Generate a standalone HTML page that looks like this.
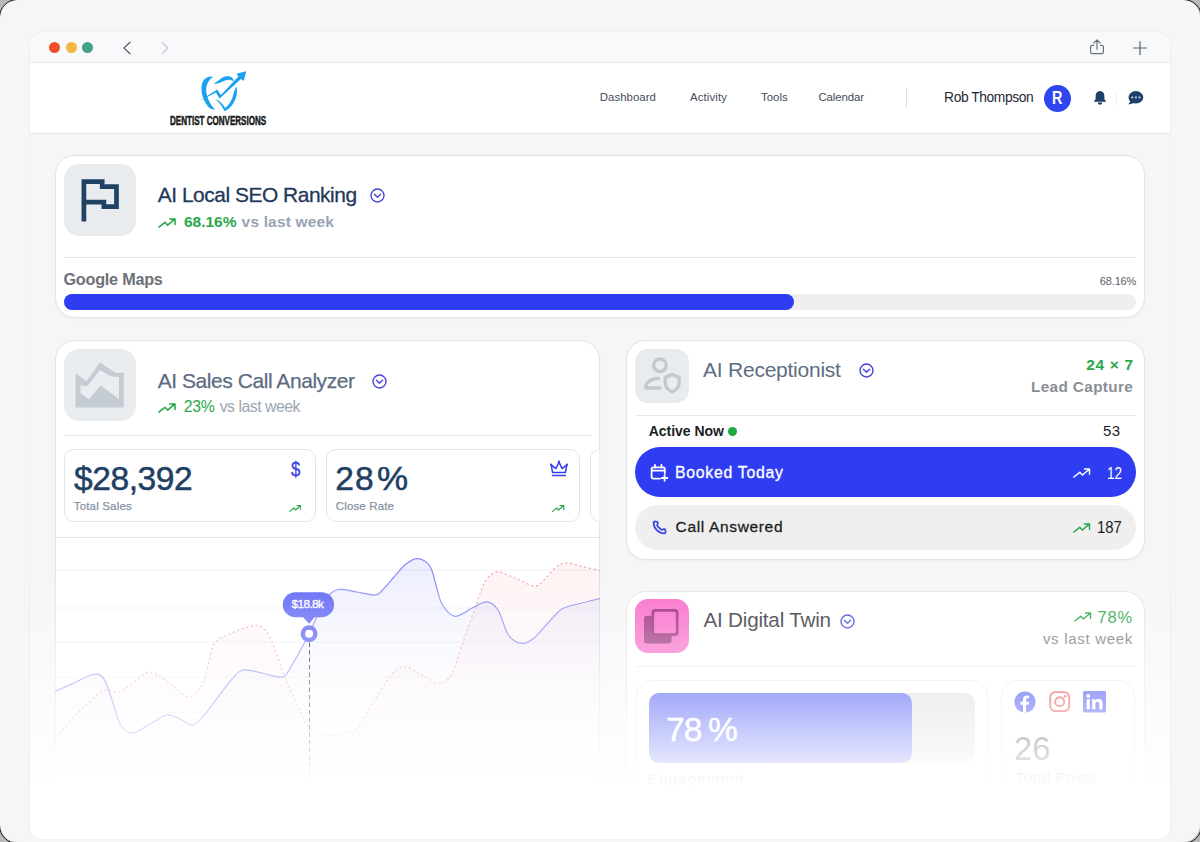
<!DOCTYPE html>
<html>
<head>
<meta charset="utf-8">
<title>Dentist Conversions Dashboard</title>
<style>
*{box-sizing:border-box;margin:0;padding:0}
html,body{width:1200px;height:842px;overflow:hidden;background:#b9b9b9;font-family:"Liberation Sans",sans-serif;}
.abs{position:absolute}
.t{position:absolute;white-space:nowrap;line-height:1;transform-origin:0 0}
#frame{position:absolute;left:0;top:0;width:1200px;height:842px;background:#f5f6f8;border-radius:17px;overflow:hidden}
#ring{position:absolute;left:-1.5px;top:-1.5px;width:1203px;height:845px;border-radius:18.5px;border:1.5px solid #1a1a1a;pointer-events:none}
#win{position:absolute;left:30px;top:32px;width:1140px;height:807px;background:#f6f6f8;border-radius:14px 14px 12px 12px;overflow:hidden;box-shadow:0 0 0 1px #eef0f3}
#tbar{position:absolute;left:0;top:0;width:1140px;height:31px;background:#f8f9fb;border-bottom:1px solid #e6e8ec}
#nav{position:absolute;left:0;top:31px;width:1140px;height:71px;background:#fff;border-bottom:1px solid #e3e5e9}
.dot{position:absolute;top:10px;width:11px;height:11px;border-radius:50%}
.card{position:absolute;background:#fff;border:1px solid #e2e4e8;border-radius:20px;box-shadow:0 1px 3px rgba(20,30,60,.04)}
.tile{position:absolute;width:72px;height:72px;border-radius:15px;background:#e9ecef}
.hr{position:absolute;height:1px;background:#e5e7ea}
.box{position:absolute;border:1px solid #e3e5e9;border-radius:10px;background:#fff}
#fade{position:absolute;left:0;top:538px;width:1140px;height:269px;background:linear-gradient(to bottom,rgba(255,255,255,0) 0,rgba(255,255,255,1) 220px,#fff 100%);pointer-events:none}
</style>
</head>
<body>
<div id="frame">
<div id="win">
  <div id="tbar">
    <div class="dot" style="left:19px;background:#f04f26"></div>
    <div class="dot" style="left:35.5px;background:#f5b642"></div>
    <div class="dot" style="left:52px;background:#44a187"></div>
    <svg class="abs" style="left:90px;top:8px" width="14" height="16" viewBox="0 0 14 16"><path d="M10 2.2 L4 8 L10 13.8" fill="none" stroke="#5a5f66" stroke-width="1.25" stroke-linecap="round" stroke-linejoin="round"/></svg>
    <svg class="abs" style="left:128px;top:8px" width="14" height="16" viewBox="0 0 14 16"><path d="M4 2.2 L10 8 L4 13.8" fill="none" stroke="#c9ccd2" stroke-width="1.3" stroke-linecap="round" stroke-linejoin="round"/></svg>
    <svg class="abs" style="left:1058px;top:6px" width="18" height="18" viewBox="0 0 18 18"><path d="M5.6 7.4 H4.3 Q2.6 7.4 2.6 9.1 V14 Q2.6 15.7 4.3 15.7 H13.7 Q15.4 15.7 15.4 14 V9.1 Q15.4 7.4 13.7 7.4 H12.4 M9 11.2 V2 M5.9 5 L9 1.9 L12.1 5" fill="none" stroke="#6b7078" stroke-width="1.2" stroke-linecap="round" stroke-linejoin="round"/></svg>
    <svg class="abs" style="left:1102px;top:8px" width="16" height="16" viewBox="0 0 16 16"><path d="M8 1.5 V14.5 M1.5 8 H14.5" fill="none" stroke="#5b6068" stroke-width="1.2" stroke-linecap="round"/></svg>
  </div>
  <div id="nav">
    <!-- logo: tooth + arrow -->
    <svg class="abs" style="left:168.7px;top:8.2px" width="48" height="40" viewBox="0 0 48 40">
      <g fill="#1aa2f1">
        <path d="M13.8 5.9 C9 4.5 3.5 8 2.6 15 C1.8 22 4.5 30 9 35.5 C11 37.8 13.5 38.8 16.2 38.8 C12.5 35 9 29.5 7.6 23 C6.2 16 8.5 9.5 13.8 5.9 Z"/>
        <path d="M14.4 12.5 C17.5 11.8 20 8.5 23.5 6.6 C27 4.7 31.5 4.6 33.6 7.2 C34.4 8.2 34.6 9.5 34.4 10.6 C32.5 8.2 29 8.2 26 9.6 C22.5 11.3 19 13.5 14.4 12.5 Z"/>
        <path d="M37.5 15.6 C38.8 21 37.5 27 34.5 32 C32 36 28.5 39 25.6 40.2 C23.8 37 21.5 32 16.2 28.5 C20 28.8 23.5 32.5 26.2 36.9 C29.5 34.5 32.5 30 33.8 25.5 C34.8 22 35.3 19 37.5 15.6 Z"/>
        <path d="M0.6 30 L18.1 18.4 L21.9 24.1 L39.4 5.4 L37.5 2.75 L47.25 0.25 L44.75 10 L41.9 7.9 L20.6 27.6 L16.9 21.5 Z"/>
      </g>
    </svg>
    <div class="abs" style="left:876px;top:25px;width:1px;height:20px;background:#dcdfe4"></div>
    <div class="abs" style="left:1014px;top:21.5px;width:27px;height:27px;border-radius:50%;background:#2f45f0"></div>
    <!-- bell -->
    <svg class="abs" style="left:1064px;top:27.8px" width="12" height="14" viewBox="0 0 12 14"><path d="M6 0 C3.2 0 1.6 2.2 1.6 5 V8.3 L0 10 V10.7 H12 V10 L10.4 8.3 V5 C10.4 2.2 8.8 0 6 0 Z M3.7 11.4 A2.3 2.3 0 0 0 8.3 11.4 Z" fill="#1f4068"/></svg>
    <div class="abs" style="left:1086px;top:28px;width:1px;height:15px;background:#eef0f3"></div>
    <!-- chat -->
    <svg class="abs" style="left:1098.4px;top:28.3px" width="15.4" height="14" viewBox="0 0 15.4 14"><ellipse cx="7.9" cy="6.3" rx="7.4" ry="6.2" fill="#1f4068"/><path d="M2.6 9.6 L0.4 13.4 L6.4 12 Z" fill="#1f4068"/><g fill="#d5e4f7"><rect x="3.3" y="5.4" width="1.9" height="1.9" rx=".5"/><rect x="6.95" y="5.4" width="1.9" height="1.9" rx=".5"/><rect x="10.6" y="5.4" width="1.9" height="1.9" rx=".5"/></g></svg>
  </div>
  <div class="t" style="left:140.00px;top:81.99px;font-size:13px;transform:scaleX(0.6189);font-weight:bold;color:#1b1b1b;-webkit-text-stroke:.55px #1b1b1b">DENTIST CONVERSIONS</div>
  <div class="t" style="left:569.70px;top:60.25px;font-size:11.4px;letter-spacing:0.065px;color:#3f4b5b">Dashboard</div>
  <div class="t" style="left:660.00px;top:60.25px;font-size:11.4px;letter-spacing:0.114px;color:#3f4b5b">Activity</div>
  <div class="t" style="left:730.95px;top:60.25px;font-size:11.4px;letter-spacing:0.034px;color:#3f4b5b">Tools</div>
  <div class="t" style="left:788.45px;top:60.25px;font-size:11.4px;letter-spacing:-0.081px;color:#3f4b5b">Calendar</div>
  <div class="t" style="left:914.12px;top:59.22px;font-size:13.8px;letter-spacing:-0.418px;color:#1f2733">Rob Thompson</div>
  <div class="t" style="left:1022.20px;top:57.16px;font-size:18px;transform:scaleX(0.7978);font-weight:bold;color:#fff">R</div>

  <!-- SEO card -->
  <div class="card" style="left:25px;top:123px;width:1090px;height:163px"></div>
  <div class="tile" style="left:34px;top:132px">
    <svg class="abs" style="left:0;top:0" width="72" height="72" viewBox="0 0 72 72"><path d="M19.9 57.5 V17.7 H38.2 V22.6 H52.5 V42.7 H39.9 V38.1 H19.9" fill="none" stroke="#1f4264" stroke-width="4.7" stroke-linejoin="miter"/></svg>
  </div>
  <div class="t" style="left:127.70px;top:152.81px;font-size:20.9px;letter-spacing:-0.446px;color:#22385a;-webkit-text-stroke:.3px #22385a">AI Local SEO Ranking</div>
  <svg class="abs" style="left:339.6px;top:156.4px" width="15" height="15" viewBox="0 0 15 15"><circle cx="7.5" cy="7.5" r="6.5" fill="none" stroke="#4744d6" stroke-width="1.4"/><path d="M4.4 6.3 L7.5 9.2 L10.6 6.3" fill="none" stroke="#4744d6" stroke-width="1.4" stroke-linecap="round" stroke-linejoin="round"/></svg>
  <svg class="abs" style="left:127.5px;top:185.5px" width="18" height="10" viewBox="0 0 18 10"><path d="M0.9 9.1 L6.9 4.3 L9.7 7.1 L16.9 0.9 M11.8 0.9 H17 V6.4" fill="none" stroke="#27a447" stroke-width="1.5" stroke-linecap="round" stroke-linejoin="round"/></svg>
  <div class="t" style="left:153.92px;top:182.38px;font-size:15.5px;letter-spacing:0.007px;font-weight:bold;color:#2aa84a">68.16%</div>
  <div class="t" style="left:211.60px;top:182.38px;font-size:15.5px;letter-spacing:0.166px;font-weight:bold;color:#97a3b3">vs last week</div>
  <div class="hr" style="left:34px;top:225px;width:1072px"></div>
  <div class="t" style="left:33.49px;top:239.29px;font-size:16.2px;letter-spacing:-0.225px;font-weight:bold;color:#6d7178">Google Maps</div>
  <div class="t" style="left:1069.75px;top:244.49px;font-size:11px;letter-spacing:-0.135px;color:#5a5e66">68.16%</div>
  <div class="abs" style="left:34px;top:262px;width:1072px;height:15.5px;border-radius:8px;background:#efefef"></div>
  <div class="abs" style="left:34px;top:262px;width:729.5px;height:15.5px;border-radius:8px;background:#2e3df2"></div>

  <!-- Sales card -->
  <div class="card" style="left:25px;top:307.6px;width:544.6px;height:520px"></div>
  <div class="tile" style="left:34px;top:317px;background:#eaedf0">
    <svg class="abs" style="left:0;top:0" width="72" height="72" viewBox="0 0 72 72"><path fill-rule="evenodd" fill="#c4cbd2" d="M11.5 24.5 V58.5 H59.8 V23.8 H51.5 L36 13.5 L22.5 32 Z M16.5 36 L23 37.5 L36 21 L46.5 27.2 L55 28 V50 L36.5 36.5 L25 50.5 L16.5 44 Z"/></svg>
  </div>
  <div class="t" style="left:127.70px;top:337.52px;font-size:21px;letter-spacing:-0.445px;color:#5d6d83;-webkit-text-stroke:.25px #5d6d83">AI Sales Call Analyzer</div>
  <svg class="abs" style="left:341.8px;top:341.6px" width="15" height="15" viewBox="0 0 15 15"><circle cx="7.5" cy="7.5" r="6.5" fill="none" stroke="#4744d6" stroke-width="1.4"/><path d="M4.4 6.3 L7.5 9.2 L10.6 6.3" fill="none" stroke="#4744d6" stroke-width="1.4" stroke-linecap="round" stroke-linejoin="round"/></svg>
  <svg class="abs" style="left:127.5px;top:370.5px" width="18" height="10" viewBox="0 0 18 10"><path d="M0.9 9.1 L6.9 4.3 L9.7 7.1 L16.9 0.9 M11.8 0.9 H17 V6.4" fill="none" stroke="#27a447" stroke-width="1.5" stroke-linecap="round" stroke-linejoin="round"/></svg>
  <div class="t" style="left:153.66px;top:367.12px;font-size:15.8px;letter-spacing:-0.206px;color:#2aa84a">23%</div>
  <div class="t" style="left:189.70px;top:367.12px;font-size:15.8px;letter-spacing:-0.482px;color:#9ba6b3">vs last week</div>
  <div class="hr" style="left:34px;top:403px;width:527px"></div>
  <div class="box" style="left:33.6px;top:417.2px;width:252.4px;height:73.3px"></div>
  <div class="box" style="left:296px;top:417.2px;width:253.6px;height:73.3px"></div>
  <div class="box" style="left:560px;top:417.2px;width:40px;height:73.3px;clip-path:inset(0 30.5px 0 0)"></div>
  <div class="t" style="left:44.00px;top:430.15px;font-size:33.6px;letter-spacing:-0.466px;color:#1f4064;-webkit-text-stroke:.5px #1f4064">$28,392</div>
  <div class="t" style="left:43.75px;top:468.66px;font-size:11.5px;letter-spacing:0.170px;color:#8793a5;-webkit-text-stroke:.25px #8793a5">Total Sales</div>
  <div class="t" style="left:305.32px;top:430.35px;font-size:33.6px;letter-spacing:0.963px;color:#1f4064;-webkit-text-stroke:.5px #1f4064">28</div>
  <div class="t" style="left:347.41px;top:430.35px;font-size:33.6px;transform:scaleX(1.0422);color:#1f4064;-webkit-text-stroke:.5px #1f4064">%</div>
  <div class="t" style="left:305.75px;top:468.66px;font-size:11.5px;letter-spacing:0.151px;color:#8793a5;-webkit-text-stroke:.25px #8793a5">Close Rate</div>
  <div class="t" style="left:260.80px;top:427.24px;font-size:20.5px;transform:scaleX(0.8206);color:#3b40e4;-webkit-text-stroke:.35px #3b40e4">$</div>
  <svg class="abs" style="left:258.5px;top:473px" width="12.5" height="7" viewBox="0 0 18 10"><path d="M0.9 9.1 L6.9 4.3 L9.7 7.1 L16.9 0.9 M11.8 0.9 H17 V6.4" fill="none" stroke="#27a447" stroke-width="1.7" stroke-linecap="round" stroke-linejoin="round"/></svg>
  <svg class="abs" style="left:522px;top:473px" width="12.5" height="7" viewBox="0 0 18 10"><path d="M0.9 9.1 L6.9 4.3 L9.7 7.1 L16.9 0.9 M11.8 0.9 H17 V6.4" fill="none" stroke="#27a447" stroke-width="1.7" stroke-linecap="round" stroke-linejoin="round"/></svg>
  <!-- crown -->
  <svg class="abs" style="left:519px;top:428px" width="20" height="18" viewBox="0 0 20 18"><path d="M3.6 12.6 L2.2 4.9 L6.9 8.6 L10 2.2 L13.1 8.6 L17.8 4.9 L16.4 12.6 Z M3.6 15.6 H16.4" fill="none" stroke="#3a3ff0" stroke-width="1.5" stroke-linejoin="round" stroke-linecap="round"/><circle cx="2" cy="4.6" r="1.1" fill="#3a3ff0"/><circle cx="10" cy="1.6" r="1.1" fill="#3a3ff0"/><circle cx="18" cy="4.6" r="1.1" fill="#3a3ff0"/></svg>

  <!-- chart -->
  <svg class="abs" style="left:25px;top:505px" width="545" height="300" viewBox="0 0 545 300">
    <defs>
      <linearGradient id="gpu" gradientUnits="userSpaceOnUse" x1="0" y1="20" x2="0" y2="245"><stop offset="0" stop-color="#5f65f5" stop-opacity=".115"/><stop offset=".55" stop-color="#5f65f5" stop-opacity=".035"/><stop offset="1" stop-color="#5f65f5" stop-opacity="0"/></linearGradient>
      <linearGradient id="gpk" gradientUnits="userSpaceOnUse" x1="0" y1="20" x2="0" y2="245"><stop offset="0" stop-color="#f47f86" stop-opacity=".095"/><stop offset=".6" stop-color="#f47f86" stop-opacity=".05"/><stop offset="1" stop-color="#f47f86" stop-opacity="0"/></linearGradient>
    </defs>
    <rect x="0" y="0" width="545" height="1" fill="#e4e6ea"/>
    <g fill="#f1f2f5"><rect x="1" y="32.5" width="543" height="1"/><rect x="1" y="70.5" width="543" height="1"/><rect x="1" y="104.5" width="543" height="1"/><rect x="1" y="139.5" width="543" height="1"/><rect x="1" y="175" width="543" height="1"/></g>
    <path d="M0.0 205.0 C0.5 204.0 0.0 203.0 3.0 199.0 C6.0 195.0 13.2 186.3 18.0 181.0 C22.8 175.7 27.3 171.4 32.0 167.0 C36.7 162.6 42.2 156.8 46.0 154.5 C49.8 152.2 52.0 153.4 55.0 153.5 C58.0 153.6 60.0 156.4 64.0 155.0 C68.0 153.6 73.8 148.3 79.0 145.0 C84.2 141.7 89.3 135.0 95.0 135.0 C100.7 135.0 106.8 140.9 113.0 145.0 C119.2 149.1 127.3 157.8 132.0 159.5 C136.7 161.2 138.3 157.3 141.0 155.0 C143.7 152.7 145.8 150.5 148.0 145.5 C150.2 140.5 152.0 131.7 154.0 125.0 C156.0 118.3 156.0 110.4 160.0 105.5 C164.0 100.6 172.7 98.0 178.0 95.5 C183.3 93.0 187.8 91.7 192.0 90.5 C196.2 89.3 199.5 87.5 203.0 88.5 C206.5 89.5 209.8 91.6 213.0 96.5 C216.2 101.4 219.0 110.3 222.0 118.0 C225.0 125.7 227.5 134.0 231.0 142.5 C234.5 151.0 239.2 160.9 243.0 169.0 C246.8 177.1 250.3 186.3 254.0 191.0 C257.7 195.7 261.2 195.8 265.0 197.0 C268.8 198.2 272.8 198.7 277.0 198.5 C281.2 198.3 285.8 197.1 290.0 196.0 C294.2 194.9 297.3 197.0 302.0 192.0 C306.7 187.0 312.5 174.8 318.0 166.0 C323.5 157.2 330.8 145.1 335.0 139.5 C339.2 133.9 340.3 134.1 343.0 132.5 C345.7 130.9 347.0 129.1 351.0 130.0 C355.0 130.9 361.5 135.3 367.0 138.0 C372.5 140.7 379.2 146.2 384.0 146.2 C388.8 146.2 392.2 144.4 396.0 138.0 C399.8 131.6 403.2 118.7 407.0 108.0 C410.8 97.3 416.0 82.5 419.0 74.0 C422.0 65.5 423.0 62.2 425.0 57.0 C427.0 51.8 428.8 46.4 431.0 43.0 C433.2 39.6 435.7 37.8 438.0 36.5 C440.3 35.2 441.0 34.1 445.0 35.0 C449.0 35.9 456.2 39.7 462.0 42.0 C467.8 44.3 475.3 49.0 480.0 49.0 C484.7 49.0 486.7 45.0 490.0 42.0 C493.3 39.0 496.5 33.7 500.0 31.0 C503.5 28.3 506.5 26.2 511.0 26.0 C515.5 25.8 521.3 28.2 527.0 29.5 C532.7 30.8 542.0 32.8 545.0 33.5 L545 240 L0 240 Z" fill="url(#gpk)"/>
    <path d="M0.0 154.5 C3.3 153.0 13.7 148.3 20.0 145.5 C26.3 142.7 33.3 138.3 38.0 137.5 C42.7 136.7 45.0 136.8 48.0 140.5 C51.0 144.2 53.0 151.9 56.0 160.0 C59.0 168.1 62.3 183.0 66.0 189.0 C69.7 195.0 73.2 196.3 78.0 196.0 C82.8 195.7 89.3 190.0 95.0 187.0 C100.7 184.0 107.0 178.8 112.0 178.0 C117.0 177.2 120.7 180.3 125.0 182.0 C129.3 183.7 133.8 188.8 138.0 188.0 C142.2 187.2 145.8 181.7 150.0 177.0 C154.2 172.3 158.5 165.8 163.0 160.0 C167.5 154.2 172.8 146.5 177.0 142.0 C181.2 137.5 183.0 134.0 188.0 133.0 C193.0 132.0 200.5 134.8 207.0 136.0 C213.5 137.2 222.0 141.3 227.0 140.0 C232.0 138.7 232.5 135.2 237.0 128.0 C241.5 120.8 249.3 106.2 254.0 97.0 C258.7 87.8 261.7 79.5 265.0 73.0 C268.3 66.5 270.8 61.4 274.0 58.0 C277.2 54.6 279.3 53.0 284.0 52.5 C288.7 52.0 296.0 54.1 302.0 55.0 C308.0 55.9 315.8 58.2 320.0 58.0 C324.2 57.8 323.8 56.5 327.0 53.5 C330.2 50.5 335.0 44.4 339.0 40.0 C343.0 35.6 347.0 30.0 351.0 27.0 C355.0 24.0 359.0 21.3 363.0 21.7 C367.0 22.1 372.0 25.1 375.0 29.5 C378.0 33.9 379.0 41.8 381.0 48.0 C383.0 54.2 383.8 61.8 387.0 67.0 C390.2 72.2 394.7 78.8 400.0 79.3 C405.3 79.8 413.7 72.4 419.0 70.0 C424.3 67.6 428.0 64.3 432.0 64.8 C436.0 65.3 439.4 67.5 443.0 73.0 C446.6 78.5 449.5 92.4 453.5 98.0 C457.5 103.6 462.8 105.9 467.0 106.4 C471.2 106.9 474.7 104.4 479.0 101.0 C483.3 97.6 488.3 90.8 493.0 86.0 C497.7 81.2 501.7 75.2 507.0 72.0 C512.3 68.8 518.7 68.2 525.0 66.5 C531.3 64.8 541.7 62.3 545.0 61.5 L545 240 L0 240 Z" fill="url(#gpu)"/>
    <path d="M0.0 205.0 C0.5 204.0 0.0 203.0 3.0 199.0 C6.0 195.0 13.2 186.3 18.0 181.0 C22.8 175.7 27.3 171.4 32.0 167.0 C36.7 162.6 42.2 156.8 46.0 154.5 C49.8 152.2 52.0 153.4 55.0 153.5 C58.0 153.6 60.0 156.4 64.0 155.0 C68.0 153.6 73.8 148.3 79.0 145.0 C84.2 141.7 89.3 135.0 95.0 135.0 C100.7 135.0 106.8 140.9 113.0 145.0 C119.2 149.1 127.3 157.8 132.0 159.5 C136.7 161.2 138.3 157.3 141.0 155.0 C143.7 152.7 145.8 150.5 148.0 145.5 C150.2 140.5 152.0 131.7 154.0 125.0 C156.0 118.3 156.0 110.4 160.0 105.5 C164.0 100.6 172.7 98.0 178.0 95.5 C183.3 93.0 187.8 91.7 192.0 90.5 C196.2 89.3 199.5 87.5 203.0 88.5 C206.5 89.5 209.8 91.6 213.0 96.5 C216.2 101.4 219.0 110.3 222.0 118.0 C225.0 125.7 227.5 134.0 231.0 142.5 C234.5 151.0 239.2 160.9 243.0 169.0 C246.8 177.1 250.3 186.3 254.0 191.0 C257.7 195.7 261.2 195.8 265.0 197.0 C268.8 198.2 272.8 198.7 277.0 198.5 C281.2 198.3 285.8 197.1 290.0 196.0 C294.2 194.9 297.3 197.0 302.0 192.0 C306.7 187.0 312.5 174.8 318.0 166.0 C323.5 157.2 330.8 145.1 335.0 139.5 C339.2 133.9 340.3 134.1 343.0 132.5 C345.7 130.9 347.0 129.1 351.0 130.0 C355.0 130.9 361.5 135.3 367.0 138.0 C372.5 140.7 379.2 146.2 384.0 146.2 C388.8 146.2 392.2 144.4 396.0 138.0 C399.8 131.6 403.2 118.7 407.0 108.0 C410.8 97.3 416.0 82.5 419.0 74.0 C422.0 65.5 423.0 62.2 425.0 57.0 C427.0 51.8 428.8 46.4 431.0 43.0 C433.2 39.6 435.7 37.8 438.0 36.5 C440.3 35.2 441.0 34.1 445.0 35.0 C449.0 35.9 456.2 39.7 462.0 42.0 C467.8 44.3 475.3 49.0 480.0 49.0 C484.7 49.0 486.7 45.0 490.0 42.0 C493.3 39.0 496.5 33.7 500.0 31.0 C503.5 28.3 506.5 26.2 511.0 26.0 C515.5 25.8 521.3 28.2 527.0 29.5 C532.7 30.8 542.0 32.8 545.0 33.5" fill="none" stroke="#f6a2ae" stroke-width="1.15" stroke-dasharray="2.2 2.6"/>
    <path d="M0.0 154.5 C3.3 153.0 13.7 148.3 20.0 145.5 C26.3 142.7 33.3 138.3 38.0 137.5 C42.7 136.7 45.0 136.8 48.0 140.5 C51.0 144.2 53.0 151.9 56.0 160.0 C59.0 168.1 62.3 183.0 66.0 189.0 C69.7 195.0 73.2 196.3 78.0 196.0 C82.8 195.7 89.3 190.0 95.0 187.0 C100.7 184.0 107.0 178.8 112.0 178.0 C117.0 177.2 120.7 180.3 125.0 182.0 C129.3 183.7 133.8 188.8 138.0 188.0 C142.2 187.2 145.8 181.7 150.0 177.0 C154.2 172.3 158.5 165.8 163.0 160.0 C167.5 154.2 172.8 146.5 177.0 142.0 C181.2 137.5 183.0 134.0 188.0 133.0 C193.0 132.0 200.5 134.8 207.0 136.0 C213.5 137.2 222.0 141.3 227.0 140.0 C232.0 138.7 232.5 135.2 237.0 128.0 C241.5 120.8 249.3 106.2 254.0 97.0 C258.7 87.8 261.7 79.5 265.0 73.0 C268.3 66.5 270.8 61.4 274.0 58.0 C277.2 54.6 279.3 53.0 284.0 52.5 C288.7 52.0 296.0 54.1 302.0 55.0 C308.0 55.9 315.8 58.2 320.0 58.0 C324.2 57.8 323.8 56.5 327.0 53.5 C330.2 50.5 335.0 44.4 339.0 40.0 C343.0 35.6 347.0 30.0 351.0 27.0 C355.0 24.0 359.0 21.3 363.0 21.7 C367.0 22.1 372.0 25.1 375.0 29.5 C378.0 33.9 379.0 41.8 381.0 48.0 C383.0 54.2 383.8 61.8 387.0 67.0 C390.2 72.2 394.7 78.8 400.0 79.3 C405.3 79.8 413.7 72.4 419.0 70.0 C424.3 67.6 428.0 64.3 432.0 64.8 C436.0 65.3 439.4 67.5 443.0 73.0 C446.6 78.5 449.5 92.4 453.5 98.0 C457.5 103.6 462.8 105.9 467.0 106.4 C471.2 106.9 474.7 104.4 479.0 101.0 C483.3 97.6 488.3 90.8 493.0 86.0 C497.7 81.2 501.7 75.2 507.0 72.0 C512.3 68.8 518.7 68.2 525.0 66.5 C531.3 64.8 541.7 62.3 545.0 61.5" fill="none" stroke="#8a8ef6" stroke-width="1.25"/>
    <path d="M254.5 105.5 V246" stroke="#26282e" stroke-width="1" stroke-dasharray="4.5 3" fill="none"/>
    <circle cx="254.1" cy="96.8" r="8.45" fill="#5f65f5"/><circle cx="254.1" cy="96.8" r="4.05" fill="#fff"/>
    <rect x="227.8" y="55.2" width="51.3" height="25" rx="12.5" fill="#6268f5"/>
    <path d="M247.8 79.8 L254.1 86.8 L260 79.8 Z" fill="#6268f5"/>
  </svg>
  <div class="t" style="left:261.60px;top:567.01px;font-size:11.8px;letter-spacing:-0.616px;color:#fff;-webkit-text-stroke:.35px #fff">$18.8k</div>

  <!-- Receptionist card -->
  <div class="card" style="left:596.3px;top:307.6px;width:518.7px;height:220.4px"></div>
  <div class="abs" style="left:605px;top:317px;width:54px;height:54px;border-radius:13px;background:#e9ecef">
    <svg class="abs" style="left:0;top:0" width="54" height="54" viewBox="0 0 54 54"><g fill="none" stroke="#c3c8ce" stroke-width="3.3" stroke-linejoin="round"><circle cx="24.9" cy="16.3" r="6.3"/><path d="M25 29.4 C17 29.4 11.2 32.5 10.6 39 H26.5" stroke-linecap="butt"/><path d="M37.2 25.6 L44.2 28.4 V33.5 C44.2 38 41 41.2 37.2 42.9 C33.4 41.2 30.2 38 30.2 33.5 V28.4 Z"/></g></svg>
  </div>
  <div class="t" style="left:673.10px;top:327.12px;font-size:21px;letter-spacing:-0.244px;color:#5d6d83">AI Receptionist</div>
  <svg class="abs" style="left:828.5px;top:330.5px" width="15" height="15" viewBox="0 0 15 15"><circle cx="7.5" cy="7.5" r="6.5" fill="none" stroke="#4744d6" stroke-width="1.4"/><path d="M4.4 6.3 L7.5 9.2 L10.6 6.3" fill="none" stroke="#4744d6" stroke-width="1.4" stroke-linecap="round" stroke-linejoin="round"/></svg>
  <div class="t" style="left:1056.22px;top:325.48px;font-size:15.5px;letter-spacing:0.677px;font-weight:bold;color:#2aa84a">24 × 7</div>
  <div class="t" style="left:1001.04px;top:346.55px;font-size:15.3px;letter-spacing:0.370px;font-weight:bold;color:#8a8f96">Lead Capture</div>
  <div class="hr" style="left:606px;top:383px;width:500px"></div>
  <div class="t" style="left:618.78px;top:391.75px;font-size:14px;letter-spacing:-0.032px;font-weight:bold;color:#1c1f24">Active Now</div>
  <div class="abs" style="left:697.6px;top:395px;width:9px;height:9px;border-radius:50%;background:#1faa3c"></div>
  <div class="t" style="left:1073.03px;top:391.40px;font-size:15px;letter-spacing:0.292px;color:#1c1f24">53</div>
  <div class="abs" style="left:605px;top:415.4px;width:501px;height:50.1px;border-radius:25px;background:#2e3df2"></div>
  <!-- calendar plus -->
  <svg class="abs" style="left:620px;top:431.5px" width="19" height="18" viewBox="0 0 19 18"><g fill="none" stroke="#fff" stroke-width="1.8" stroke-linecap="round" stroke-linejoin="round"><path d="M10 14.6 H3.4 Q1.6 14.6 1.6 12.8 V5.2 Q1.6 3.4 3.4 3.4 H13 Q14.8 3.4 14.8 5.2 V9.4"/><path d="M1.8 6.6 H14.6 M5 0.9 V3.6 M11.4 0.9 V3.6 M14.6 11.2 V16.8 M11.8 14 H17.4"/></g></svg>
  <div class="t" style="left:645.07px;top:432.72px;font-size:15.8px;letter-spacing:0.718px;color:#fff;-webkit-text-stroke:.3px #fff">Booked Today</div>
  <svg class="abs" style="left:1043px;top:436px" width="17.5" height="10" viewBox="0 0 18 10"><path d="M0.9 9.1 L6.9 4.3 L9.7 7.1 L16.9 0.9 M11.8 0.9 H17 V6.4" fill="none" stroke="#fff" stroke-width="1.5" stroke-linecap="round" stroke-linejoin="round"/></svg>
  <div class="t" style="left:1077.26px;top:432.79px;font-size:16.2px;transform:scaleX(0.8318);color:#fff">12</div>
  <div class="abs" style="left:605px;top:473px;width:501px;height:44.5px;border-radius:23px;background:#efefef"></div>
  <!-- phone -->
  <svg class="abs" style="left:620.6px;top:486.6px" width="17" height="17" viewBox="0 0 24 24"><path d="M6.6 3.6 C5.3 3.3 3.6 3.6 3.6 5.4 C3.9 13.6 10.4 20.1 18.6 20.4 C20.4 20.4 20.9 19 20.6 17.6 L20 15.3 C19.8 14.5 19 14.1 18.2 14.3 L15.6 15.2 C15 15.4 14.4 15.2 14 14.8 L9.2 10 C8.8 9.6 8.6 9 8.8 8.4 L9.7 5.8 C9.9 5 9.5 4.2 8.7 4 Z" fill="none" stroke="#3a46e8" stroke-width="2.5" stroke-linejoin="round"/></svg>
  <div class="t" style="left:645.57px;top:487.38px;font-size:15.5px;letter-spacing:0.655px;color:#1c1f24;-webkit-text-stroke:.3px #1c1f24">Call Answered</div>
  <svg class="abs" style="left:1043px;top:491px" width="17.5" height="10" viewBox="0 0 18 10"><path d="M0.9 9.1 L6.9 4.3 L9.7 7.1 L16.9 0.9 M11.8 0.9 H17 V6.4" fill="none" stroke="#27a447" stroke-width="1.5" stroke-linecap="round" stroke-linejoin="round"/></svg>
  <div class="t" style="left:1067.17px;top:487.62px;font-size:15.8px;transform:scaleX(0.9420);color:#1c1f24">187</div>

  <!-- Digital twin card -->
  <div class="card" style="left:596.3px;top:558.7px;width:518.7px;height:270px"></div>
  <div class="abs" style="left:605px;top:567px;width:54px;height:54px;border-radius:13px;background:#f96bc9">
    <svg class="abs" style="left:0;top:0" width="54" height="54" viewBox="0 0 54 54"><rect x="9" y="16.8" width="27.5" height="27.8" rx="3" fill="#9a2f7a"/><rect x="17.8" y="11.3" width="24.4" height="24.4" rx="2.5" fill="#f96bc9" stroke="#98267a" stroke-width="2.7"/></svg>
  </div>
  <div class="t" style="left:673.50px;top:577.68px;font-size:20.7px;letter-spacing:-0.227px;color:#2b2d33">AI Digital Twin</div>
  <svg class="abs" style="left:809.8px;top:581.6px" width="15" height="15" viewBox="0 0 15 15"><circle cx="7.5" cy="7.5" r="6.5" fill="none" stroke="#3f43dc" stroke-width="1.4"/><path d="M4.4 6.3 L7.5 9.2 L10.6 6.3" fill="none" stroke="#3f43dc" stroke-width="1.4" stroke-linecap="round" stroke-linejoin="round"/></svg>
  <svg class="abs" style="left:1044px;top:580.2px" width="17.5" height="10" viewBox="0 0 18 10"><path d="M0.9 9.1 L6.9 4.3 L9.7 7.1 L16.9 0.9 M11.8 0.9 H17 V6.4" fill="none" stroke="#1ea33e" stroke-width="1.5" stroke-linecap="round" stroke-linejoin="round"/></svg>
  <div class="t" style="left:1067.53px;top:576.53px;font-size:16.5px;letter-spacing:0.870px;color:#1ea33e">78%</div>
  <div class="t" style="left:1012.90px;top:598.60px;font-size:15px;letter-spacing:0.706px;color:#6e7177">vs last week</div>
  <div class="hr" style="left:606px;top:634px;width:500px"></div>
  <div class="box" style="left:606px;top:648px;width:351.5px;height:150px;border-radius:16px;border-color:#e3e5e9"></div>
  <div class="box" style="left:971px;top:648px;width:134px;height:150px;border-radius:16px;border-color:#e3e5e9"></div>
  <div class="abs" style="left:618.5px;top:660.5px;width:326.5px;height:70.5px;border-radius:10px;background:#d9d9db"></div>
  <div class="abs" style="left:618.5px;top:660.5px;width:263.5px;height:70.5px;border-radius:10px;background:#2e3df2"></div>
  <div class="t" style="left:636.12px;top:681.15px;font-size:33.6px;letter-spacing:-0.937px;color:#fff;-webkit-text-stroke:.4px #fff">78</div>
  <div class="t" style="left:677.55px;top:681.15px;font-size:33.6px;transform:scaleX(0.9991);color:#fff;-webkit-text-stroke:.4px #fff">%</div>
  <div class="t" style="left:617.69px;top:738.68px;font-size:15.5px;letter-spacing:0.918px;color:#4b5058">Engagement</div>
  <!-- socials -->
  <svg class="abs" style="left:983.8px;top:658.5px" width="22" height="22" viewBox="0 0 22 22"><circle cx="11" cy="11" r="10.6" fill="#1f2af0"/><path d="M12.1 21.6 V13.7 H14.7 L15.2 10.7 H12.1 V8.9 C12.1 7.9 12.5 7.3 13.7 7.3 H15.3 V4.6 C14.8 4.5 13.9 4.4 13 4.4 C10.6 4.4 9 5.9 9 8.5 V10.7 H6.4 V13.7 H9 V21.6 Z" fill="#fff"/></svg>
  <svg class="abs" style="left:1018.5px;top:659px" width="21.4" height="21.4" viewBox="0 0 22 22"><g fill="none" stroke="#e8202a" stroke-width="1.9"><rect x="1.2" y="1.2" width="19.6" height="19.6" rx="5.4"/><circle cx="11" cy="11" r="4.6"/></g><circle cx="16.6" cy="5.4" r="1.3" fill="#e8202a"/></svg>
  <svg class="abs" style="left:1053px;top:659px" width="23" height="21.6" viewBox="0 0 23 21.6"><rect width="23" height="21.6" rx="1.5" fill="#2a33ee"/><g fill="#fff"><rect x="3.6" y="8.2" width="3.2" height="10"/><circle cx="5.2" cy="4.9" r="1.9"/><path d="M9.2 8.2 H12.3 V9.6 C12.9 8.6 14 7.9 15.6 7.9 C18.6 7.9 19.5 9.8 19.5 12.6 V18.2 H16.3 V13.2 C16.3 11.8 16 10.7 14.5 10.7 C13 10.7 12.4 11.7 12.4 13.2 V18.2 H9.2 Z"/></g></svg>
  <div class="t" style="left:983.88px;top:701.29px;font-size:32.5px;letter-spacing:0.291px;color:#1c1f24">26</div>
  <div class="t" style="left:985.16px;top:738.38px;font-size:15.5px;letter-spacing:0.541px;color:#4b5058">Total Posts</div>

  <div id="fade"></div>
</div>
</div>
<div style="position:absolute;left:0;top:0;width:1200px;height:842px;overflow:hidden;pointer-events:none"><div id="ring"></div></div>
</body>
</html>
